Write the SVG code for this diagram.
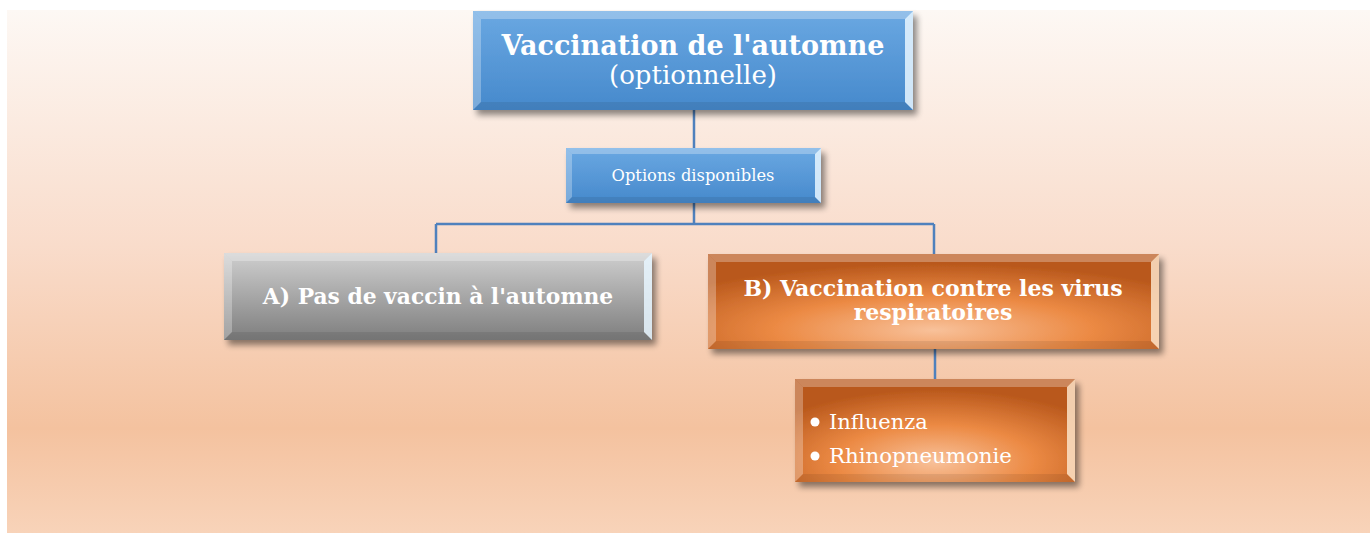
<svg xmlns="http://www.w3.org/2000/svg" width="1370" height="533" viewBox="0 0 1370 533">
<defs>
<linearGradient id="bg" x1="0" y1="0" x2="0" y2="1">
<stop offset="0" stop-color="#fdf8f4"/>
<stop offset="0.45" stop-color="#f9dccb"/>
<stop offset="0.8" stop-color="#f4c29f"/>
<stop offset="1" stop-color="#f8d3b9"/>
</linearGradient>
<linearGradient id="blue" x1="0" y1="0" x2="0" y2="1">
<stop offset="0" stop-color="#6aa8e2"/>
<stop offset="1" stop-color="#4689cc"/>
</linearGradient>
<linearGradient id="gray" x1="0" y1="0" x2="0" y2="1">
<stop offset="0" stop-color="#cfcfcf"/>
<stop offset="1" stop-color="#7e7e7e"/>
</linearGradient>
<radialGradient id="orange" cx="0.5" cy="0.8" r="0.7">
<stop offset="0" stop-color="#f8c19a"/>
<stop offset="0.5" stop-color="#ec8a44"/>
<stop offset="1" stop-color="#b9581c"/>
</radialGradient>
<filter id="sh" x="-10%" y="-20%" width="125%" height="150%">
<feGaussianBlur in="SourceAlpha" stdDeviation="3"/>
<feOffset dx="4" dy="5" result="b"/>
<feComponentTransfer><feFuncA type="linear" slope="0.45"/></feComponentTransfer>
<feMerge><feMergeNode/><feMergeNode in="SourceGraphic"/></feMerge>
</filter>
</defs>
<style>
.t{font-family:"DejaVu Serif","Liberation Serif",serif;fill:#ffffff;text-anchor:middle}
.b{font-weight:bold}
.hl{fill:#ffffff;opacity:0.28}
.dk{fill:#000000;opacity:0.08}
.rh{fill:#e8f6ff;opacity:0.85}
.ro{fill:#fbe3c8;opacity:0.85}
.conn{stroke:#4f81bd;stroke-width:2.5;fill:none}
</style>
<rect x="7" y="10" width="1363" height="523" fill="url(#bg)"/>
<g id="connectors">
<path class="conn" d="M694 110V148M694 203V224M436 224H934M436 224V253M934 224V254M935 349V379"/>
</g>
<g id="n-top">
<g filter="url(#sh)"><rect x="473" y="11" width="440" height="99" fill="url(#blue)"/></g>
<polygon class="hl" points="473,11 913,11 905,19 481,19"/>
<polygon class="hl" points="473,11 481,19 481,102 473,110"/>
<polygon class="dk" points="473,110 481,102 905,102 913,110"/>
<polygon class="rh" points="913,11 913,110 905,102 905,19"/>
<text class="t b" x="693" y="55" font-size="27">Vaccination de l'automne</text>
<text class="t" x="693" y="84" font-size="26">(optionnelle)</text>
</g>
<g id="n-options">
<g filter="url(#sh)"><rect x="566" y="148" width="255" height="55" fill="url(#blue)"/></g>
<polygon class="hl" points="566,148 821,148 815,154 572,154"/>
<polygon class="hl" points="566,148 572,154 572,197 566,203"/>
<polygon class="dk" points="566,203 572,197 815,197 821,203"/>
<polygon class="rh" points="821,148 821,203 815,197 815,154"/>
<text class="t" x="693" y="181" font-size="16.3">Options disponibles</text>
</g>
<g id="n-a">
<g filter="url(#sh)"><rect x="224" y="253" width="428" height="87" fill="url(#gray)"/></g>
<polygon class="hl" points="224,253 652,253 644,261 232,261" opacity="0.5"/>
<polygon class="hl" points="224,253 232,261 232,332 224,340"/>
<polygon class="dk" points="224,340 232,332 644,332 652,340"/>
<polygon class="rh" points="652,253 652,340 644,332 644,261"/>
<text class="t b" x="438" y="304" font-size="21.8">A) Pas de vaccin à l'automne</text>
</g>
<g id="n-b">
<g filter="url(#sh)"><rect x="708" y="254" width="451" height="95" fill="url(#orange)"/></g>
<polygon class="hl" points="708,254 1159,254 1151,262 716,262"/>
<polygon class="hl" points="708,254 716,262 716,341 708,349" opacity="0.15"/>
<polygon class="dk" points="708,349 716,341 1151,341 1159,349"/>
<polygon class="ro" points="1159,254 1159,349 1151,341 1151,262"/>
<text class="t b" x="933" y="296" font-size="22">B) Vaccination contre les virus</text>
<text class="t b" x="933" y="320" font-size="22">respiratoires</text>
</g>
<g id="n-sub">
<g filter="url(#sh)"><rect x="795" y="379" width="280" height="103" fill="url(#orange)"/></g>
<polygon class="hl" points="795,379 1075,379 1067,387 803,387"/>
<polygon class="hl" points="795,379 803,387 803,474 795,482" opacity="0.15"/>
<polygon class="dk" points="795,482 803,474 1067,474 1075,482"/>
<polygon class="ro" points="1075,379 1075,482 1067,474 1067,387"/>
<circle cx="815" cy="422" r="4.5" fill="#ffffff"/>
<circle cx="815" cy="456" r="4.5" fill="#ffffff"/>
<text class="t" x="829" y="429" font-size="21" style="text-anchor:start">Influenza</text>
<text class="t" x="829" y="463" font-size="21.3" style="text-anchor:start">Rhinopneumonie</text>
</g>
</svg>
